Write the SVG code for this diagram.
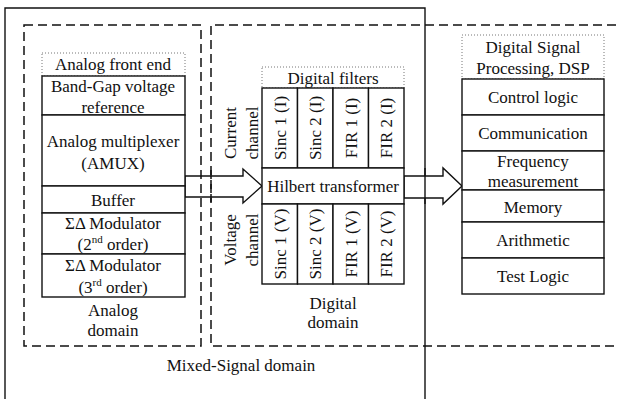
<svg xmlns="http://www.w3.org/2000/svg" width="618" height="399" viewBox="0 0 618 399" font-family="'Liberation Serif', 'DejaVu Serif', serif">
  <style>
    text { font-family: 'Liberation Serif', 'Tinos', 'DejaVu Serif', serif; font-size: 17px; fill: #111; text-anchor: middle; dominant-baseline: central; }
    .box { fill: #fff; stroke: #111; stroke-width: 1.4; }
    .solid { fill: none; stroke: #111; stroke-width: 1.4; }
    .dash { fill: none; stroke: #111; stroke-width: 1.5; stroke-dasharray: 9 5; }
    .dot { fill: none; stroke: #777; stroke-width: 1; stroke-dasharray: 1 2; }
    .arrow { fill: #fff; stroke: #111; stroke-width: 1.4; stroke-linejoin: miter; }
    .sup { font-size: 11px; }
  </style>

  <!-- domain frames -->
  <g id="mixed-signal-domain">
    <polyline class="solid" points="5,400 5,8 425,8 425,400"/>
    <text x="241" y="365">Mixed-Signal domain</text>
  </g>

  <!-- connectors: wide hollow arrows -->
  <g id="connectors">
    <polygon class="arrow" points="185,176 243,176 243,169 262,186 243,203 243,197 185,197"/>
    <polygon class="arrow" points="404,176 443,176 443,168 462,186 443,204 443,198 404,198"/>
  </g>

  <g id="analog-domain">
    <rect class="dash" x="24" y="25" width="177" height="321"/>
    <text x="113" y="310">Analog</text>
    <text x="113" y="330">domain</text>
  </g>

  <g id="digital-domain">
    <path class="dash" d="M630,25 H211 V346 H630"/>
    <text x="333" y="303">Digital</text>
    <text x="333" y="322">domain</text>
  </g>

  <!-- crossing lines drawn over the arrows -->
  <g id="frame-overlays">
    <line class="solid" x1="425" y1="168" x2="425" y2="204"/>
    <line class="dash" x1="211" y1="170" x2="211" y2="202"/>
  </g>

  <!-- Analog front end -->
  <g id="analog-front-end">
    <rect class="dot" x="42" y="53" width="143" height="23"/>
    <text x="113" y="64">Analog front end</text>
  </g>
  <g id="bandgap">
    <rect class="box" x="42" y="76" width="143" height="39"/>
    <text x="113" y="86">Band-Gap voltage</text>
    <text x="113" y="107">reference</text>
  </g>
  <g id="amux">
    <rect class="box" x="42" y="115" width="143" height="71"/>
    <text x="113" y="141">Analog multiplexer</text>
    <text x="113" y="163">(AMUX)</text>
  </g>
  <g id="buffer">
    <rect class="box" x="42" y="186" width="143" height="27"/>
    <text x="113" y="200">Buffer</text>
  </g>
  <g id="sd-mod-2">
    <rect class="box" x="42" y="213" width="143" height="41"/>
    <text x="113" y="223">ΣΔ Modulator</text>
    <text x="113" y="244">(2<tspan class="sup" dy="-5">nd</tspan><tspan dy="5"> order)</tspan></text>
  </g>
  <g id="sd-mod-3">
    <rect class="box" x="42" y="254" width="143" height="43"/>
    <text x="113" y="265">ΣΔ Modulator</text>
    <text x="113" y="287">(3<tspan class="sup" dy="-5">rd</tspan><tspan dy="5"> order)</tspan></text>
  </g>

  <!-- Digital filters -->
  <g id="digital-filters">
    <rect class="dot" x="262" y="67" width="142" height="21"/>
    <text x="333" y="78">Digital filters</text>
  </g>
  <g id="current-channel">
    <text transform="translate(230,133) rotate(-90)">Current</text>
    <text transform="translate(252,133) rotate(-90)">channel</text>
  </g>
  <g id="voltage-channel">
    <text transform="translate(230,240) rotate(-90)">Voltage</text>
    <text transform="translate(252,240) rotate(-90)">channel</text>
  </g>
  <g id="sinc1-i">
    <rect class="box" x="262" y="88" width="35.5" height="80"/>
    <text transform="translate(280,128) rotate(-90)">Sinc 1 (I)</text>
  </g>
  <g id="sinc2-i">
    <rect class="box" x="297.5" y="88" width="35.5" height="80"/>
    <text transform="translate(315.5,128) rotate(-90)">Sinc 2 (I)</text>
  </g>
  <g id="fir1-i">
    <rect class="box" x="333" y="88" width="35.5" height="80"/>
    <text transform="translate(351,128) rotate(-90)">FIR 1 (I)</text>
  </g>
  <g id="fir2-i">
    <rect class="box" x="368.5" y="88" width="35.5" height="80"/>
    <text transform="translate(386.5,128) rotate(-90)">FIR 2 (I)</text>
  </g>
  <g id="hilbert">
    <rect class="box" x="262" y="168" width="142" height="36"/>
    <text x="333" y="186">Hilbert transformer</text>
  </g>
  <g id="sinc1-v">
    <rect class="box" x="262" y="204" width="35.5" height="80"/>
    <text transform="translate(280,244) rotate(-90)">Sinc 1 (V)</text>
  </g>
  <g id="sinc2-v">
    <rect class="box" x="297.5" y="204" width="35.5" height="80"/>
    <text transform="translate(315.5,244) rotate(-90)">Sinc 2 (V)</text>
  </g>
  <g id="fir1-v">
    <rect class="box" x="333" y="204" width="35.5" height="80"/>
    <text transform="translate(351,244) rotate(-90)">FIR 1 (V)</text>
  </g>
  <g id="fir2-v">
    <rect class="box" x="368.5" y="204" width="35.5" height="80"/>
    <text transform="translate(386.5,244) rotate(-90)">FIR 2 (V)</text>
  </g>

  <!-- Digital Signal Processing -->
  <g id="dsp">
    <rect class="dot" x="462" y="35" width="142" height="44"/>
    <text x="533" y="47">Digital Signal</text>
    <text x="533" y="68">Processing, DSP</text>
  </g>
  <g id="control-logic">
    <rect class="box" x="462" y="79" width="142" height="36"/>
    <text x="533" y="97">Control logic</text>
  </g>
  <g id="communication">
    <rect class="box" x="462" y="115" width="142" height="36"/>
    <text x="533" y="133">Communication</text>
  </g>
  <g id="frequency">
    <rect class="box" x="462" y="151" width="142" height="39"/>
    <text x="533" y="161">Frequency</text>
    <text x="533" y="181">measurement</text>
  </g>
  <g id="memory">
    <rect class="box" x="462" y="190" width="142" height="32"/>
    <text x="533" y="207">Memory</text>
  </g>
  <g id="arithmetic">
    <rect class="box" x="462" y="222" width="142" height="36"/>
    <text x="533" y="240">Arithmetic</text>
  </g>
  <g id="test-logic">
    <rect class="box" x="462" y="258" width="142" height="36"/>
    <text x="533" y="276">Test Logic</text>
  </g>
</svg>
